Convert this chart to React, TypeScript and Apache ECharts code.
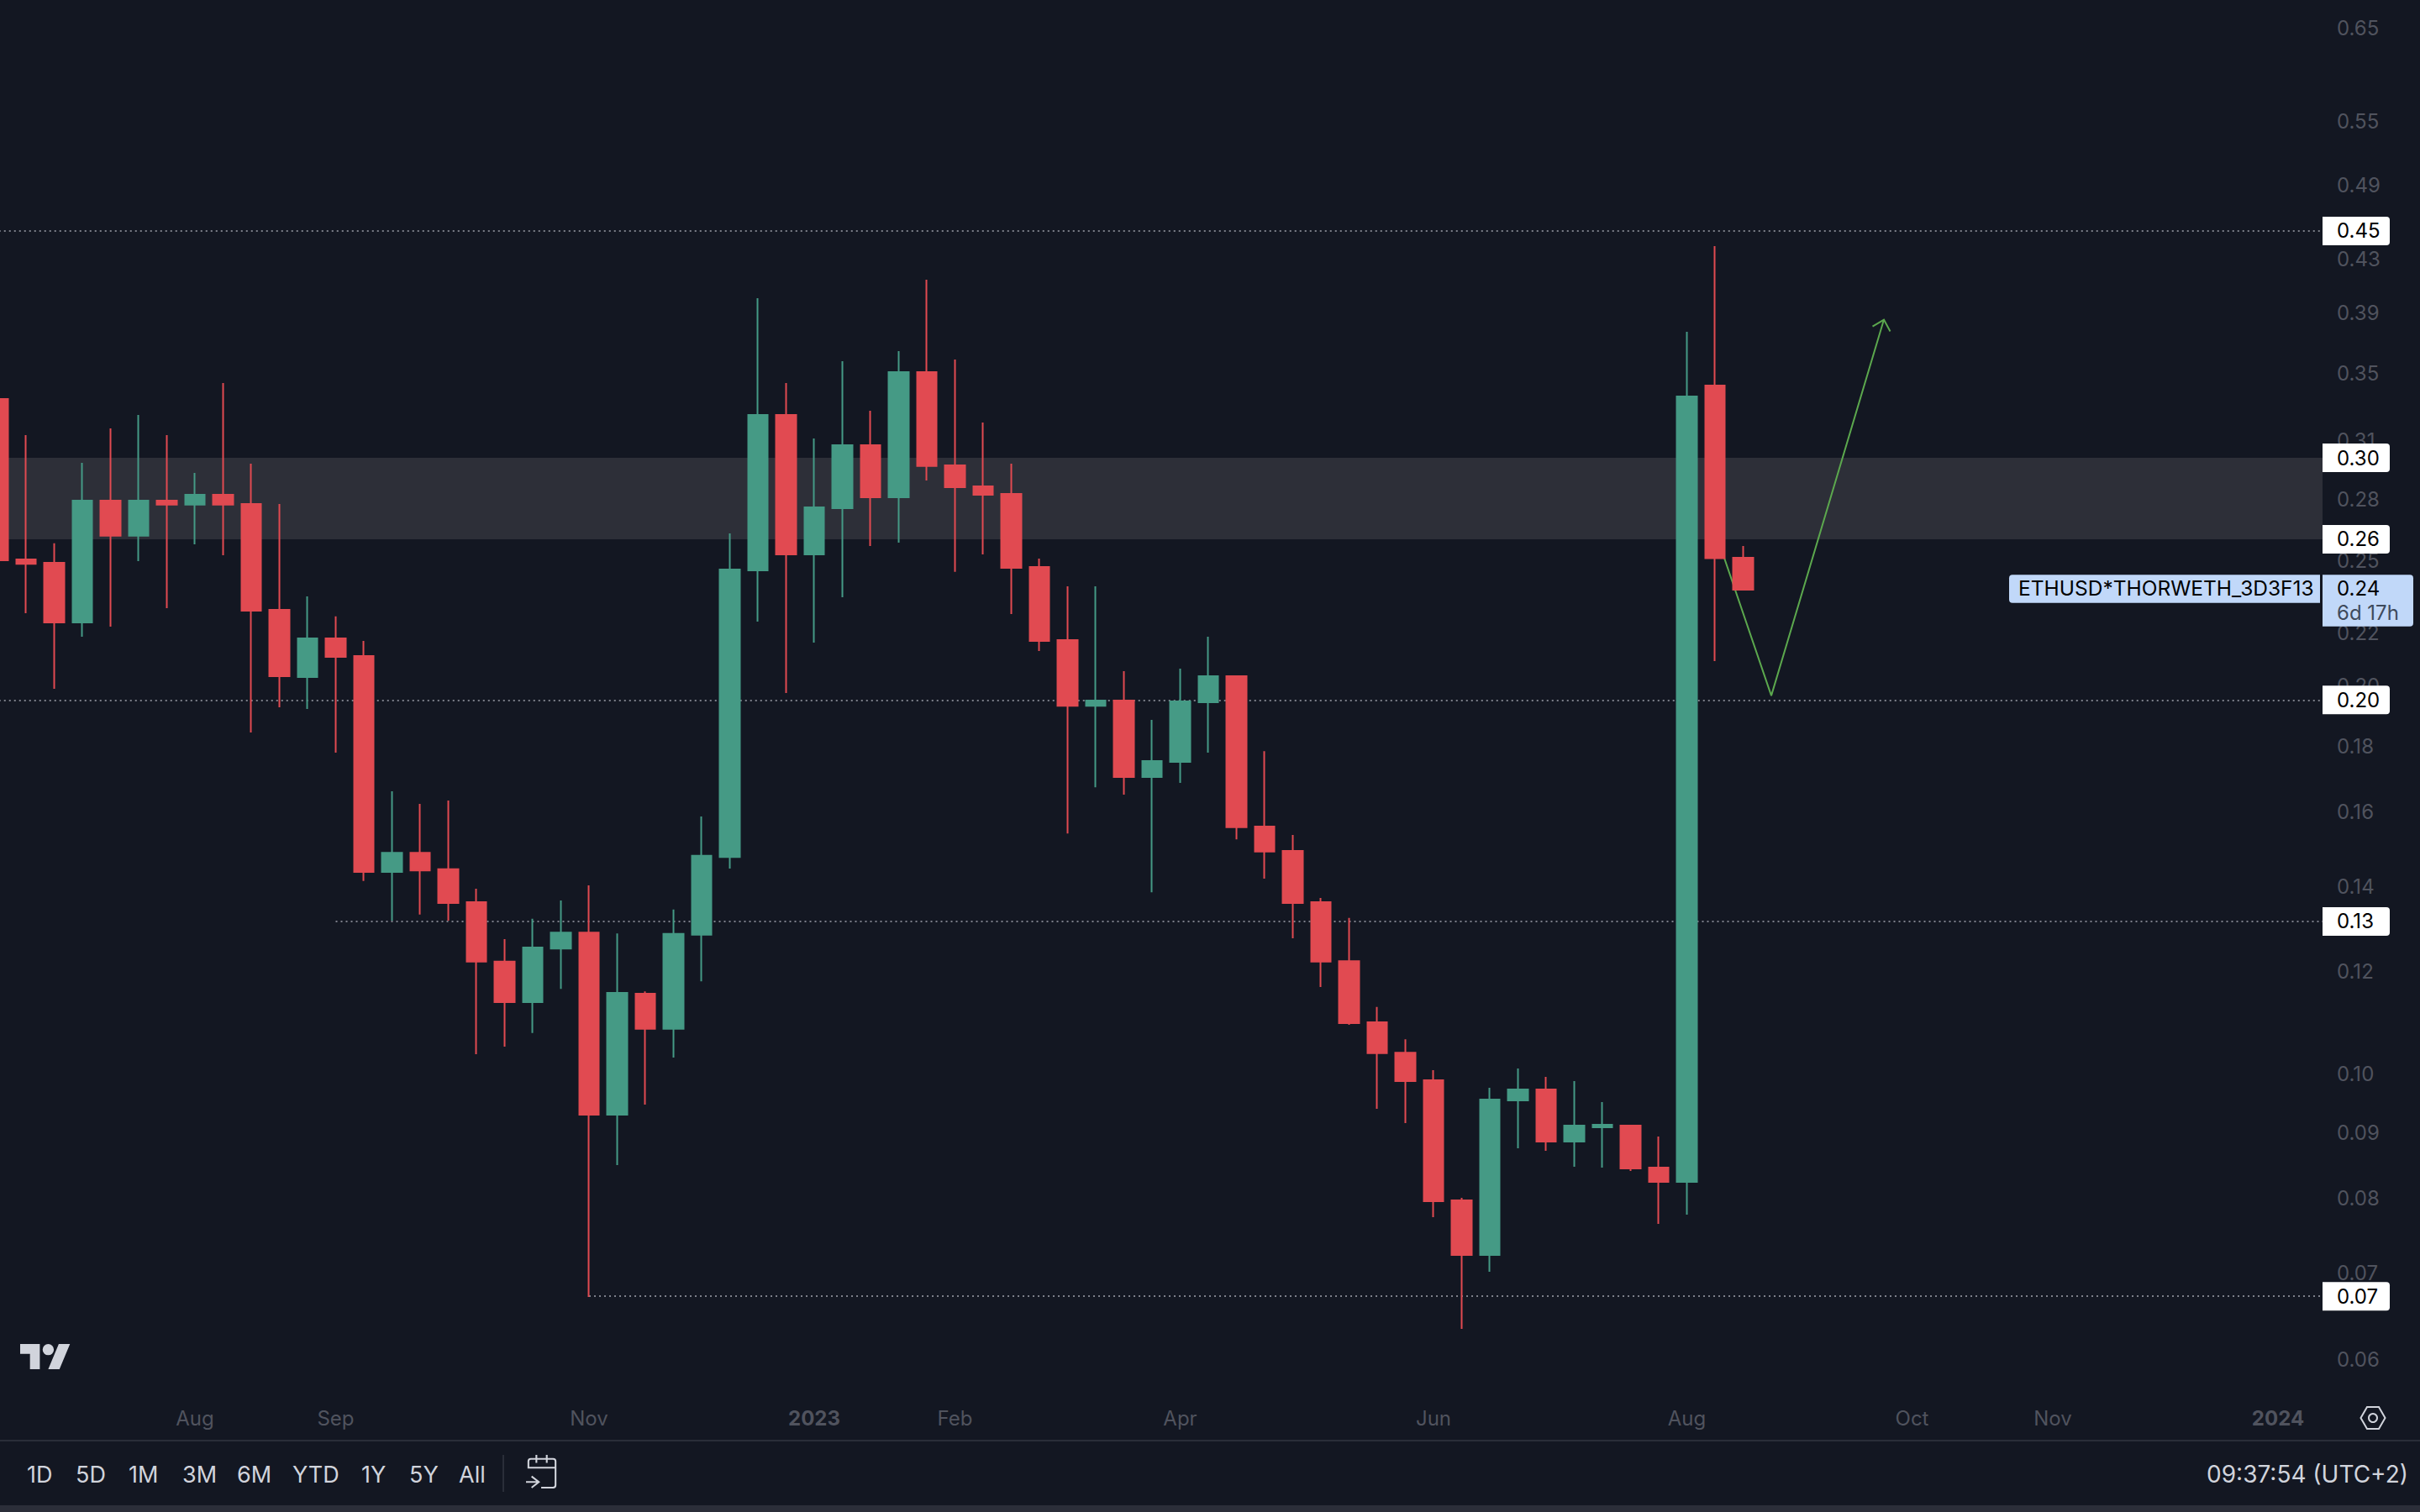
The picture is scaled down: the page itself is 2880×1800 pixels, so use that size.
import React, { useEffect, useRef } from "react";
import * as echarts from "echarts";

const weeks = [
  "2022-06-13","2022-06-20","2022-06-27","2022-07-04","2022-07-11","2022-07-18","2022-07-25","2022-08-01","2022-08-08","2022-08-15",
  "2022-08-22","2022-08-29","2022-09-05","2022-09-12","2022-09-19","2022-09-26","2022-10-03","2022-10-10","2022-10-17","2022-10-24",
  "2022-10-31","2022-11-07","2022-11-14","2022-11-21","2022-11-28","2022-12-05","2022-12-12","2022-12-19","2022-12-26","2023-01-02",
  "2023-01-09","2023-01-16","2023-01-23","2023-01-30","2023-02-06","2023-02-13","2023-02-20","2023-02-27","2023-03-06","2023-03-13",
  "2023-03-20","2023-03-27","2023-04-03","2023-04-10","2023-04-17","2023-04-24","2023-05-01","2023-05-08","2023-05-15","2023-05-22",
  "2023-05-29","2023-06-05","2023-06-12","2023-06-19","2023-06-26","2023-07-03","2023-07-10","2023-07-17","2023-07-24","2023-07-31",
  "2023-08-07","2023-08-14","2023-08-21","2023-08-28","2023-09-04","2023-09-11","2023-09-18","2023-09-25","2023-10-02","2023-10-09",
  "2023-10-16","2023-10-23","2023-10-30","2023-11-06","2023-11-13","2023-11-20","2023-11-27","2023-12-04","2023-12-11","2023-12-18",
  "2023-12-25","2024-01-01","2024-01-08","2024-01-15",
];

const opens = [
  0.3333,0.2503,0.2488,0.2237,0.2780,0.2611,0.2780,0.2760,0.2810,0.2764,
  0.2288,0.2029,0.2174,0.2107,0.1433,0.1483,0.1440,0.1358,0.1221,0.1136,
  0.1250,0.1286,0.09292,0.1153,0.1083,0.1281,0.1472,0.2455,0.3240,0.2526,
  0.2743,0.3069,0.2797,0.3497,0.2961,0.2852,0.2814,0.2470,0.2168,0.1928,
  0.1946,0.1698,0.1744,0.1940,0.2032,0.1554,0.1488,0.1358,0.1222,0.1096,
  0.1038,0.09881,0.07974,0.07233,0.09532,0.09719,0.08856,0.09084,0.09112,0.08455,
  0.08242,0.3414,0.2511,
];
const closes = [
  0.2499,0.2484,0.2237,0.2780,0.2611,0.2780,0.2760,0.2810,0.2760,0.2284,
  0.2032,0.2174,0.2104,0.1433,0.1483,0.1437,0.1356,0.1221,0.1136,0.1252,
  0.1286,0.09292,0.1155,0.1083,0.1283,0.1475,0.2459,0.3240,0.2526,0.2747,
  0.3069,0.2797,0.3497,0.2957,0.2848,0.2810,0.2466,0.2164,0.1928,0.1946,
  0.1698,0.1747,0.1943,0.2032,0.1552,0.1486,0.1356,0.1221,0.1094,0.1037,
  0.09866,0.07962,0.07233,0.09546,0.09719,0.08856,0.09112,0.09126,0.08442,0.08242,
  0.3348,0.2509,0.2372,
];
const lows = [
  0.2499,0.2274,0.1987,0.2181,0.2220,0.2496,0.2295,0.2572,0.2522,0.1838,
  0.1923,0.1917,0.1773,0.1410,0.1314,0.1328,0.1314,0.1035,0.1049,0.1075,
  0.1163,0.06711,0.08492,0.0946,0.1029,0.1179,0.1442,0.2240,0.1972,0.2158,
  0.2340,0.2564,0.2579,0.2882,0.2448,0.2526,0.2271,0.2126,0.1535,0.1667,
  0.1645,0.1382,0.1680,0.1773,0.1519,0.1416,0.1273,0.1167,0.1091,0.0939,
  0.09153,0.07738,0.0634,0.0702,0.08751,0.08712,0.08467,0.08455,0.08404,0.07646,
  0.07773,0.2088,0.2372,
];
const highs = [
  0.3333,0.3125,0.2576,0.2974,0.3163,0.3240,0.3125,0.2921,0.3430,0.2970,
  0.2764,0.2343,0.2261,0.2164,0.1655,0.1618,0.1628,0.1391,0.1271,0.1318,
  0.1362,0.1399,0.1284,0.1158,0.1340,0.1582,0.2622,0.3990,0.3430,0.3106,
  0.3566,0.3264,0.3631,0.4124,0.3577,0.3196,0.2970,0.2507,0.2386,0.2386,
  0.2051,0.1880,0.2060,0.2181,0.2035,0.1778,0.1531,0.1368,0.1320,0.1126,
  0.1063,0.1006,0.0801,0.09748,0.1009,0.0994,0.09866,0.09503,0.09126,0.08937,
  0.3758,0.4379,0.2564,
];

const priceTicks = [0.6466,0.5474,0.4878,0.4281,0.3884,0.3487,0.3097,0.2788,0.2496,0.2194,0.1999,0.1794,0.1596,0.1397,0.1199,0.1,0.09,0.08,0.07,0.06];
const priceMin = 0.05573;
const priceMax = 0.6794;

const timeTickWeeks = ["2022-08-01","2022-09-05","2022-11-07","2023-01-02","2023-02-06","2023-04-03","2023-06-05","2023-08-07","2023-10-02","2023-11-06","2024-01-01"];
const timeTickTexts = ["Aug","Sep","Nov","2023","Feb","Apr","Jun","Aug","Oct","Nov","2024"];

const zoneTop = 0.3001;
const zoneBottom = 0.2595;
const fullLevels = [0.4499, 0.1948];
const partialLevels = [0.1312, 0.0672];
const partialStarts = ["2022-09-05", "2022-11-07"];
const tagValues = [0.4499, 0.3001, 0.2595, 0.1948, 0.1312, 0.0672];
const tagTexts = ["0.45", "0.30", "0.26", "0.20", "0.13", "0.07"];

const projectionWeeks = ["2023-08-14", "2023-08-28", "2023-09-25"];
const projectionValues = [0.2634, 0.1963, 0.384];

const lastPrice = 0.2378;
const lastPriceText = "0.24";
const countdownText = "6d 17h";
const symbolText = "ETHUSD*THORWETH_3D3F13";
const rangeButtons = ["1D", "5D", "1M", "3M", "6M", "YTD", "1Y", "5Y", "All"];
const rangeButtonX = [32, 90, 153, 217, 282, 348, 430, 487, 546];
const clockText = "09:37:54 (UTC+2)";

const BG = "#131722";
const GREEN = "#459A85";
const RED = "#E14A51";
const AXIS_TEXT = "#50535E";
const UI_TEXT = "#D1D4DC";
const FONT = "Inter";

echarts.graphic.registerShape(
  "tvLogo",
  echarts.graphic.extendPath("M14 22H7V11H0V4h14v18zM28 22h-8l7.5-18h8L28 22zM24 8a4 4 0 1 1-8 0 4 4 0 0 1 8 0z", {})
);
echarts.graphic.registerShape(
  "calendarIcon",
  echarts.graphic.extendPath(
    "M3 17V8a3 3 0 0 1 3-3h28a3 3 0 0 1 3 3v30a3 3 0 0 1-3 3H19M3 16h34M13 0v10M26 0v10M0 34h16M7 27l9 7-9 7",
    {}
  )
);

export default function App() {
  const ref = useRef<HTMLDivElement>(null);
  useEffect(() => {
    document.body.style.margin = "0";
    document.body.style.background = BG;
    const chart = echarts.init(ref.current!, null, { renderer: "svg" });
    const candles = opens.map((o, i) => [o, closes[i], lows[i], highs[i]]);
    const dotted = { type: [2, 4] as number[], color: "#7C7F89", width: 2 };
    chart.setOption({
      animation: false,
      backgroundColor: BG,
      textStyle: { fontFamily: FONT },
      grid: { left: -19.25, width: 2814, top: 0, height: 1668, containLabel: false, outerBoundsMode: "none" },
      xAxis: {
        type: "category",
        data: weeks,
        boundaryGap: true,
        axisLine: { show: false },
        axisTick: { show: false },
        splitLine: { show: false },
        axisLabel: {
          interval: (_: number, v: string) => timeTickWeeks.includes(v),
          formatter: (v: string) => {
            const t = timeTickTexts[timeTickWeeks.indexOf(v)];
            return /^\d{4}$/.test(t) ? `{y|${t}}` : t;
          },
          color: AXIS_TEXT,
          fontFamily: FONT,
          fontSize: 24,
          margin: 8,
          hideOverlap: false,
          rich: { y: { fontFamily: FONT, fontSize: 24, fontWeight: "bold", color: AXIS_TEXT } },
        },
      },
      yAxis: {
        type: "log",
        position: "right",
        min: priceMin,
        max: priceMax,
        offset: -13.75,
        z: 9,
        axisLine: { show: false },
        axisTick: { show: false },
        splitLine: { show: false },
        axisLabel: {
          customValues: priceTicks,
          formatter: (v: number) => Number(v).toFixed(2),
          color: AXIS_TEXT,
          fontFamily: FONT,
          fontSize: 24,
          margin: 0,
          hideOverlap: false,
        },
      },
      series: [
        {
          type: "line",
          z: 2,
          symbol: "none",
          silent: true,
          lineStyle: { color: "#5CA84E", width: 2 },
          data: projectionWeeks.map((w, i) => [w, projectionValues[i]]),
        },
        {
          type: "candlestick",
          z: 3,
          barWidth: 24,
          silent: true,
          itemStyle: { color: GREEN, color0: RED, borderColor: GREEN, borderColor0: RED, borderWidth: 2 },
          data: candles,
          markArea: {
            silent: true,
            z: 1,
            itemStyle: { color: "#2D2F38" },
            data: [[{ yAxis: zoneTop }, { yAxis: zoneBottom }]],
          },
          markLine: {
            silent: true,
            z: 1,
            precision: 5,
            symbol: "none",
            label: { show: false },
            lineStyle: dotted,
            data: [
              ...fullLevels.map((v) => ({ yAxis: v })),
              ...partialLevels.map((v, i) => [
                { xAxis: partialStarts[i], yAxis: v },
                { xAxis: weeks[weeks.length - 1], yAxis: v },
              ]),
            ],
          },
        },
      ],
    });

    const py = (v: number) => chart.convertToPixel({ yAxisIndex: 0 }, v) as number;
    const tip = chart.convertToPixel({ xAxisIndex: 0, yAxisIndex: 0 }, [projectionWeeks[2], projectionValues[2]]) as number[];
    const lastY = py(lastPrice);

    const graphics: any[] = [
      { type: "rect", z: 8, silent: true, shape: { x: 2764, y: 0, width: 116, height: 1715 }, style: { fill: BG } },
      { type: "rect", z: 8, silent: true, shape: { x: 0, y: 1714, width: 2880, height: 2 }, style: { fill: "#2A2E39" } },
      { type: "rect", z: 8, silent: true, shape: { x: 0, y: 1792, width: 2880, height: 8 }, style: { fill: "#2B2E39" } },
      {
        type: "polyline",
        z: 4,
        silent: true,
        shape: { points: [[tip[0] - 13.5, tip[1] + 8], [tip[0], tip[1]], [tip[0] + 7.5, tip[1] + 14]] },
        style: { stroke: "#5CA84E", lineWidth: 2, fill: "none" },
      },
      { type: "tvLogo", z: 8, silent: true, x: 24, y: 1593.3, scaleX: 1.67, scaleY: 1.67, style: { fill: UI_TEXT } },
      { type: "calendarIcon", z: 8, silent: true, x: 626, y: 1732, scaleX: 0.95, scaleY: 0.95, style: { stroke: UI_TEXT, lineWidth: 2.2, fill: "none" } },
      { type: "rect", z: 8, silent: true, shape: { x: 598, y: 1732, width: 2, height: 44 }, style: { fill: "#2A2E39" } },
      {
        type: "polygon",
        z: 10,
        silent: true,
        shape: { points: [[2809.5, 1688], [2817, 1675], [2831, 1675], [2838.5, 1688], [2831, 1701], [2817, 1701]] },
        style: { stroke: UI_TEXT, lineWidth: 2, fill: "none" },
      },
      { type: "circle", z: 10, silent: true, shape: { cx: 2824, cy: 1688, r: 5 }, style: { stroke: UI_TEXT, lineWidth: 2, fill: "none" } },
      {
        type: "text",
        z: 10,
        silent: true,
        x: 2866,
        y: 1755,
        style: { text: clockText, font: `28px ${FONT}`, fill: UI_TEXT, align: "right", verticalAlign: "middle" },
      },
      ...rangeButtons.map((t, i) => ({
        type: "text",
        z: 10,
        silent: true,
        x: rangeButtonX[i],
        y: 1755,
        style: { text: t, font: `27px ${FONT}`, fill: UI_TEXT, align: "left", verticalAlign: "middle" },
      })),
      ...tagValues.flatMap((v, i) => [
        {
          type: "rect",
          z: 10,
          silent: true,
          shape: { x: 2764, y: py(v) - 17, width: 80, height: 34, r: [0, 4, 4, 0] },
          style: { fill: "#FFFFFF" },
        },
        {
          type: "text",
          z: 11,
          silent: true,
          x: 2781,
          y: py(v),
          style: { text: tagTexts[i], font: `24px ${FONT}`, fill: "#000000", align: "left", verticalAlign: "middle" },
        },
      ]),
      {
        type: "rect",
        z: 10,
        silent: true,
        shape: { x: 2391, y: lastY - 16, width: 370, height: 33.5, r: [4, 0, 0, 4] },
        style: { fill: "#C1D8F9" },
      },
      {
        type: "rect",
        z: 10,
        silent: true,
        shape: { x: 2764, y: lastY - 16, width: 108, height: 61.5, r: [0, 4, 4, 0] },
        style: { fill: "#C1D8F9" },
      },
      {
        type: "text",
        z: 11,
        silent: true,
        x: 2402,
        y: lastY,
        style: { text: symbolText, font: `24.5px ${FONT}`, fill: "#000000", align: "left", verticalAlign: "middle" },
      },
      {
        type: "text",
        z: 11,
        silent: true,
        x: 2781,
        y: lastY,
        style: { text: lastPriceText, font: `24px ${FONT}`, fill: "#000000", align: "left", verticalAlign: "middle" },
      },
      {
        type: "text",
        z: 11,
        silent: true,
        x: 2781,
        y: lastY + 29,
        style: { text: countdownText, font: `24px ${FONT}`, fill: "#3E4A5C", align: "left", verticalAlign: "middle" },
      },
    ];
    chart.setOption({ graphic: { elements: graphics } });
    return () => chart.dispose();
  }, []);
  return <div ref={ref} style={{ width: 2880, height: 1800 }} />;
}
